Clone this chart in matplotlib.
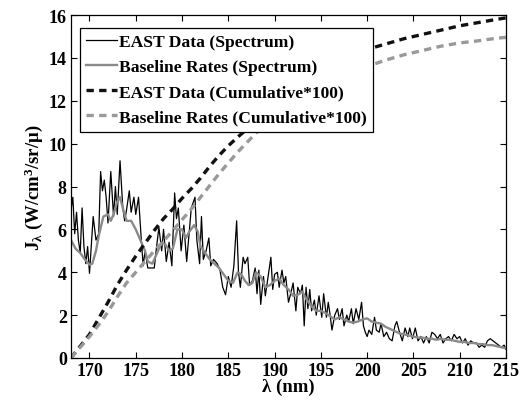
import numpy as np
import matplotlib
matplotlib.use("Agg")
import matplotlib.pyplot as plt

# spectrum (nm, W/cm^3/sr/micron)
east_wl = [168.0, 168.2, 168.4, 168.6, 168.8, 169.0, 169.2, 169.4, 169.6, 169.8,
           170.0, 170.2, 170.4, 170.7, 171.0, 171.2, 171.4, 171.6, 171.8, 172.0,
           172.3, 172.6, 172.8, 173.0, 173.3, 173.6, 173.8, 174.0, 174.3, 174.5,
           174.8, 175.0, 175.3, 175.6, 175.8, 176.0, 176.3, 176.6, 177.0, 177.2,
           177.5, 177.8, 178.0, 178.3, 178.6, 178.9, 179.2, 179.4, 179.6, 179.9,
           180.2, 180.5, 180.8, 181.0, 181.4, 181.6, 181.9, 182.1, 182.3, 182.6,
           182.9, 183.1, 183.4, 183.8, 184.1, 184.4, 184.7, 185.0, 185.3, 185.6,
           185.9, 186.1, 186.3, 186.6, 186.8, 187.1, 187.3, 187.6, 187.9, 188.1,
           188.3, 188.5, 188.8, 189.0, 189.3, 189.6, 189.8, 190.0, 190.3, 190.5,
           190.8, 191.0, 191.2, 191.5, 191.8, 192.0, 192.3, 192.5, 192.8, 193.0,
           193.2, 193.4, 193.6, 193.8, 194.0, 194.3, 194.5, 194.8, 195.1, 195.3,
           195.6, 195.8, 196.0, 196.2, 196.5, 196.8, 197.0, 197.3, 197.5, 197.8,
           198.0, 198.3, 198.5, 198.8, 199.1, 199.4, 199.6, 199.8, 200.0, 200.2,
           200.5, 200.8, 201.0, 201.3, 201.5, 201.8, 202.1, 202.4, 202.7, 203.0,
           203.2, 203.5, 203.8, 204.1, 204.4, 204.6, 204.9, 205.2, 205.5, 205.8,
           206.1, 206.4, 206.7, 207.0, 207.3, 207.6, 207.9, 208.2, 208.5, 208.8,
           209.1, 209.4, 209.7, 210.0, 210.3, 210.6, 210.9, 211.2, 211.5, 211.8,
           212.1, 212.4, 212.7, 213.0, 213.3, 213.6, 213.9, 214.2, 214.5, 214.8,
           215.0]
east_j = [6.9, 7.5, 5.8, 6.8, 5.5, 4.9, 7.0, 5.2, 4.4, 5.2,
          3.95, 5.3, 6.6, 5.5, 5.8, 8.7, 7.8, 8.3, 7.5, 6.3,
          8.7, 6.6, 8.0, 6.7, 9.2, 7.0, 6.4, 6.9, 7.8, 6.8,
          7.5, 6.7, 7.5, 5.5, 4.3, 5.0, 4.2, 4.2, 4.2, 5.0,
          6.1, 5.0, 6.0, 4.5, 5.4, 4.3, 7.7, 6.5, 7.0, 5.0,
          6.2, 4.5, 6.0, 7.0, 7.5, 5.5, 4.4, 6.6, 4.6, 5.0,
          5.6, 4.3, 4.6, 4.4, 4.1, 3.3, 2.95, 3.8, 3.3, 4.3,
          6.4, 4.0, 3.3, 4.7, 4.4, 4.7, 3.4, 3.6, 4.2, 3.0,
          4.1, 2.5, 3.8, 2.9, 3.8, 4.7, 3.2, 3.9, 4.0, 3.3,
          4.1, 3.5, 3.8, 2.6, 3.1, 3.5, 2.2, 3.3, 3.0, 3.4,
          1.5, 3.3, 2.3, 3.2, 2.2, 2.7, 2.0, 2.9, 1.9, 3.0,
          1.9, 2.6, 2.0, 1.3, 2.0, 2.3, 1.8, 2.3, 1.5, 2.0,
          1.7, 2.3, 1.6, 2.3, 1.8, 2.6, 1.5, 1.2, 1.0, 1.3,
          1.1, 1.9, 1.3, 1.2, 1.6, 1.0, 1.2, 0.9, 0.8, 1.5,
          1.7, 1.2, 0.8, 1.4, 1.0, 1.4, 0.9, 1.4, 0.8, 1.0,
          0.7, 1.0, 0.7, 1.2, 1.1, 0.9, 1.1, 0.7, 0.9, 1.0,
          0.8, 1.1, 0.9, 1.0, 0.7, 0.9, 0.6, 0.8, 0.7, 0.7,
          0.5, 0.6, 0.5, 0.8, 0.9, 0.8, 0.7, 0.6, 0.5, 0.6,
          0.4]

base_wl = [168, 168.5, 169, 169.5, 170, 170.3, 170.7, 171, 171.5, 172,
           172.3, 172.6, 173, 173.3, 173.6, 174, 174.5, 175, 175.5, 176,
           176.3, 176.8, 177.3, 177.8, 178.2, 178.6, 179, 179.5, 180, 180.4,
           180.8, 181.3, 181.7, 182, 182.5, 183, 183.5, 184, 184.5, 185,
           185.5, 186, 186.4, 186.8, 187.2, 187.6, 188, 188.5, 189, 189.5,
           190, 190.5, 191, 191.5, 192, 192.5, 193, 193.5, 194, 194.5,
           195, 195.5, 196, 196.5, 197, 197.5, 198, 198.5, 199, 199.5,
           200, 200.5, 201, 201.5, 202, 202.5, 203, 203.5, 204, 204.5,
           205, 205.5, 206, 206.5, 207, 207.5, 208, 208.5, 209, 209.5,
           210, 210.5, 211, 211.5, 212, 212.5, 213, 213.5, 214, 214.5, 215]
base_j = [5.5, 5.1, 4.9, 4.6, 4.35, 4.4, 5.0, 5.7, 6.6, 6.7,
          6.4, 6.7, 7.3, 7.5, 7.0, 6.4, 6.4, 6.0, 5.5, 5.0,
          4.5, 4.4, 4.9, 5.4, 5.3, 5.0, 5.1, 6.0, 6.0, 5.6,
          5.9, 6.2, 5.9, 5.2, 4.9, 4.6, 4.4, 4.2, 3.9, 3.6,
          3.5, 4.0, 3.9, 3.6, 3.4, 3.5, 4.0, 3.8, 3.3, 3.4,
          3.6, 3.7, 3.4, 3.2, 2.9, 2.95, 3.1, 2.7, 2.4, 2.2,
          2.2, 2.1, 1.95, 1.8, 1.9, 1.8, 1.7, 1.65, 1.7, 1.8,
          1.85, 1.7, 1.65, 1.6, 1.45, 1.35, 1.25, 1.15, 1.1, 1.05,
          1.0, 0.95, 0.95, 0.9, 0.9, 0.85, 0.9, 0.85, 0.85, 0.8,
          0.75, 0.75, 0.7, 0.7, 0.65, 0.65, 0.6, 0.6, 0.55, 0.5, 0.45]

# cumulative curves (x100)
cum_wl = [168, 169, 170, 171, 172, 173, 174, 175, 176, 177,
          178, 179, 180, 181, 182, 183, 184, 185, 186, 188,
          190, 192, 194, 196, 198, 200, 202, 204, 206, 208,
          210, 212, 214, 215]
cum_east = [0, 0.55, 1.1, 1.85, 2.6, 3.4, 4.1, 4.75, 5.35, 5.95,
            6.5, 6.95, 7.45, 7.9, 8.4, 8.95, 9.45, 9.9, 10.3, 11.05,
            11.75, 12.45, 13.05, 13.55, 14.0, 14.4, 14.65, 14.9, 15.1, 15.3,
            15.5, 15.65, 15.8, 15.87]
cum_base = [0, 0.5, 1.0, 1.55, 2.15, 2.85, 3.5, 4.0, 4.5, 5.0,
            5.45, 5.95, 6.45, 6.95, 7.5, 8.05, 8.6, 9.1, 9.6, 10.5,
            11.2, 11.85, 12.4, 12.85, 13.25, 13.6, 13.9, 14.15, 14.35, 14.55,
            14.7, 14.8, 14.92, 14.96]

plt.rcParams['font.family'] = 'Liberation Serif'
plt.rcParams['font.weight'] = 'bold'
plt.rcParams['mathtext.fontset'] = 'custom'
plt.rcParams['mathtext.rm'] = 'Liberation Serif:bold'
plt.rcParams['mathtext.it'] = 'Liberation Serif:bold'
plt.rcParams['mathtext.bf'] = 'Liberation Serif:bold'

fig = plt.figure(figsize=(5.2, 4.02), dpi=100)
ax = fig.add_axes([0.1365, 0.107, 0.8365, 0.853])

ax.plot(east_wl, east_j, color='black', lw=0.9, label='EAST Data (Spectrum)')
ax.plot(base_wl, base_j, color='#8a8a8a', lw=1.7, label='Baseline Rates (Spectrum)')
ax.plot(cum_wl, cum_east, color='#111111', lw=2.4, ls=(0, (2.2, 1.6)),
        label='EAST Data (Cumulative*100)')
ax.plot(cum_wl, cum_base, color='#999999', lw=2.4, ls=(0, (2.2, 1.6)),
        label='Baseline Rates (Cumulative*100)')

ax.set_xlim(168, 215)
ax.set_ylim(0, 16)
ax.set_xticks(np.arange(170, 216, 5))
ax.set_yticks(np.arange(0, 17, 2))
ax.tick_params(direction='in', top=True, right=True, labelsize=13, length=4, width=0.8, pad=3)
for s in ax.spines.values():
    s.set_linewidth(0.9)

ax.set_xlabel('λ (nm)', fontsize=13.5, fontweight='bold', labelpad=-1)
ax.set_ylabel(r'J$_\lambda$ (W/cm$^3$/sr/μ)', fontsize=13.5, fontweight='bold', labelpad=3)

leg = ax.legend(loc='upper left', bbox_to_anchor=(0.0207, 0.962), fontsize=12.6,
                frameon=True, fancybox=False, edgecolor='black', framealpha=1,
                handlelength=1.75, handletextpad=0.15, borderpad=0.35, labelspacing=0.5,
                borderaxespad=0)
leg.get_frame().set_linewidth(0.9)

fig.savefig('out.png', dpi=100)
